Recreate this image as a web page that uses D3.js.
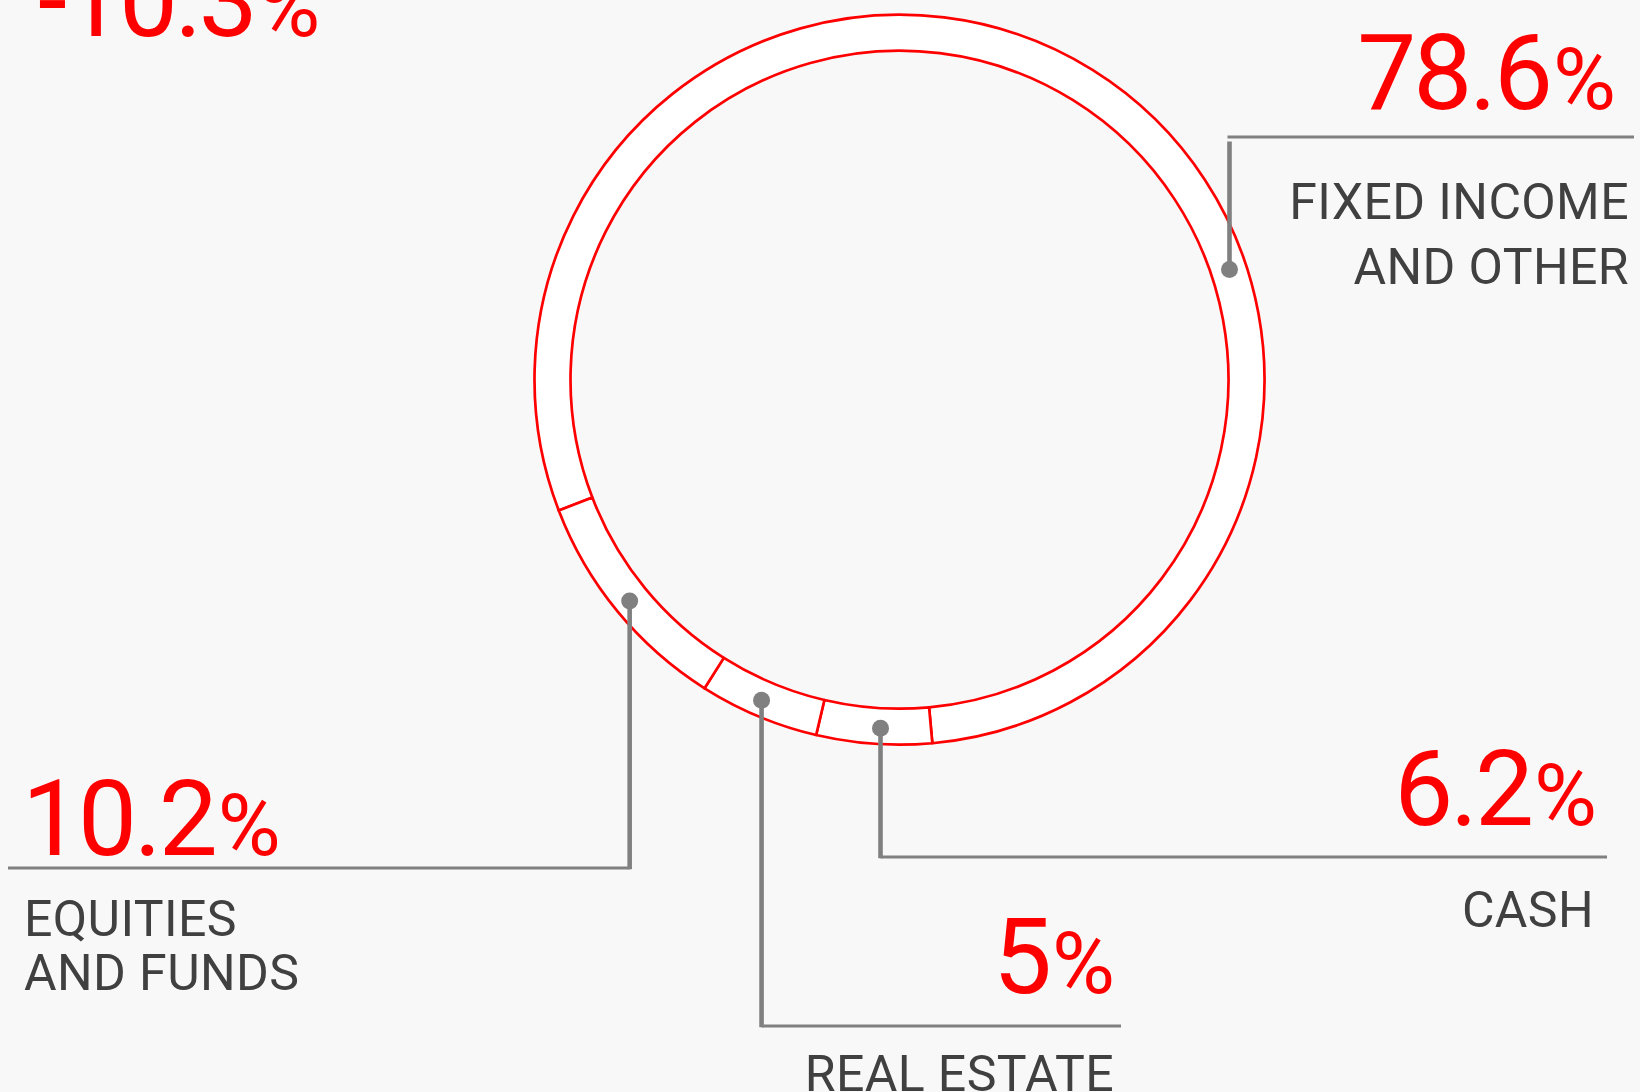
<!DOCTYPE html>
<html>
<head>
<meta charset="utf-8">
<script src="https://cdn.jsdelivr.net/npm/d3@7/dist/d3.min.js"></script>
<style>
    body { margin: 0; background: #f8f8f8; }
    svg { display: block; }
</style>
</head>
<body>
<div id="chart"></div>
<script>
// portfolio split shown in the callouts
const labelLines = [["FIXED INCOME", "AND OTHER"], ["CASH"], ["REAL ESTATE"], ["EQUITIES", "AND FUNDS"]]
const shares = [78.6, 6.2, 5, 10.2]
const ringShares = [79.4, 5.1, 5.3, 10.2]
// return figure at the top left
const returnValue = -10.3

const width = 1640, height = 1092
const cx = 899.5, cy = 379.7
const innerR = 329, outerR = 365, dotR = 349
const startAngle = -111 * Math.PI / 180

// callout layout (where each number / label / leader sits)
const callouts = [
    { side: "right", up: true, lineY: 137, lineEnd: 1634, numX: 1613, numY: 109, textX: 1629, textY: 219, gap: 65 },
    { side: "right", lineY: 857, lineEnd: 1607, numX: 1594, numY: 825, textX: 1594, textY: 927, gap: 0 },
    { side: "right", lineY: 1026, lineEnd: 1121, numX: 1112, numY: 993, textX: 1114, textY: 1091, gap: 0 },
    { side: "left", lineY: 868, lineEnd: 8, numX: 22, numY: 855, textX: 24, textY: 936, gap: 54 }
]

const red = "#ff0000", grey = "#808080", ink = "#404040"
const numSize = 105, pctSize = 86, textSize = 50

const svg = d3.select("#chart")
    .append("svg")
    .attr("width", width)
    .attr("height", height)

svg.append("rect")
    .attr("width", width)
    .attr("height", height)
    .attr("fill", "#f8f8f8")

const pie = d3.pie()
    .sort(null)
    .startAngle(startAngle)
    .endAngle(startAngle + 2 * Math.PI)
    .value(d => d)

const arc = d3.arc()
    .innerRadius(innerR)
    .outerRadius(outerR)

const ring = svg.append("g")
    .attr("transform", `translate(${cx},${cy})`)

ring.selectAll("path")
    .data(pie(ringShares))
    .join("path")
    .attr("d", arc)
    .attr("fill", "#ffffff")
    .attr("stroke", red)
    .attr("stroke-width", 2.7)
    .attr("stroke-linejoin", "round")

// anchor points for the callouts
const labelArcs = pie(shares)
const anchors = labelArcs.map((d, i) => {
    if (callouts[i].up) {
        // sits where the inner edge's rightmost vertical meets the ring middle
        const x = innerR
        const mid = (innerR + outerR) / 2
        return [cx + x + 1, cy - Math.sqrt(mid * mid - x * x)]
    }
    const a = (d.startAngle + d.endAngle) / 2
    return [cx + dotR * Math.sin(a), cy - dotR * Math.cos(a)]
})

const leaders = svg.append("g")

callouts.forEach((c, i) => {
    const [x, y] = anchors[i]
    leaders.append("line")
        .attr("x1", x).attr("y1", y)
        .attr("x2", x).attr("y2", c.up ? c.lineY + 4.5 : c.lineY + 1.3)
        .attr("stroke", grey)
        .attr("stroke-width", 4.6)
    leaders.append("line")
        .attr("x1", c.up ? x - 2 : x).attr("y1", c.lineY)
        .attr("x2", c.lineEnd).attr("y2", c.lineY)
        .attr("stroke", grey)
        .attr("stroke-width", 2.8)
    leaders.append("circle")
        .attr("cx", x).attr("cy", y)
        .attr("r", 8.5)
        .attr("fill", grey)
})

function fmt(v) {
    return String(v)
}

const texts = svg.append("g")
    .attr("font-family", "Roboto, 'DejaVu Sans', sans-serif")

callouts.forEach((c, i) => {
    const anchor = c.side === "left" ? "start" : "end"
    const num = texts.append("text")
        .attr("x", c.numX)
        .attr("y", c.numY)
        .attr("text-anchor", anchor)
        .attr("fill", red)
        .attr("font-size", numSize)
        .attr("letter-spacing", -3)
    num.append("tspan").text(fmt(shares[i]))
    num.append("tspan").attr("font-size", pctSize).attr("dx", 3).text("%")

    labelLines[i].forEach((line, j) => {
        texts.append("text")
            .attr("x", c.textX)
            .attr("y", c.textY + j * c.gap)
            .attr("text-anchor", anchor)
            .attr("fill", ink)
            .attr("font-size", textSize)
            .attr("letter-spacing", 0.4)
            .text(line)
    })
})

const ret = texts.append("text")
    .attr("x", 38)
    .attr("y", 36)
    .attr("fill", red)
    .attr("font-size", numSize)
    .attr("letter-spacing", -3.5)
ret.append("tspan").text(fmt(returnValue))
ret.append("tspan").attr("font-size", pctSize).attr("dx", 3).text("%")
</script>
</body>
</html>
